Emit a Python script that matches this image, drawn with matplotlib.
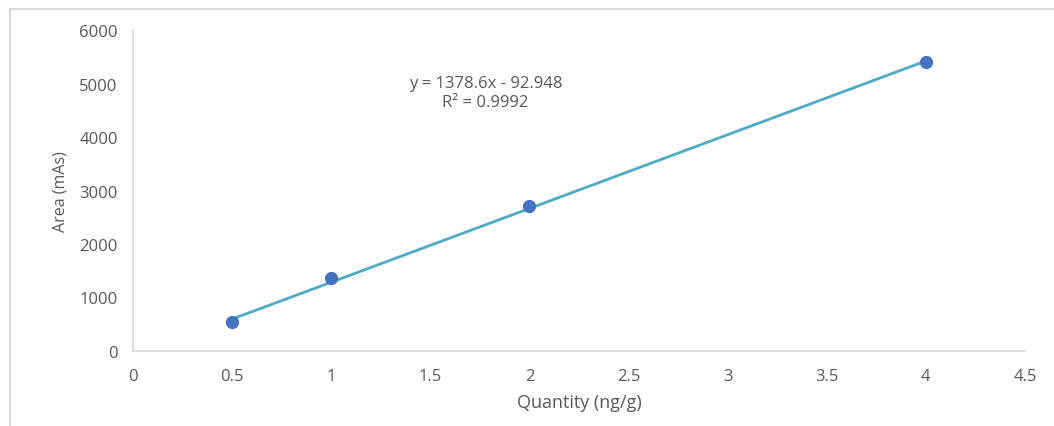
import matplotlib
matplotlib.use('Agg')
import numpy as np
from matplotlib import pyplot as plt
from matplotlib.patches import Rectangle

quantity = [0.5, 1, 2, 4]
area = [540, 1365, 2705, 5400]
slope = 1378.6
intercept = -92.948
equation = 'y = 1378.6x - 92.948'
r2_text = 'R² = 0.9992'
x_ticks = [0, 0.5, 1, 1.5, 2, 2.5, 3, 3.5, 4, 4.5]
y_ticks = [0, 1000, 2000, 3000, 4000, 5000, 6000]

GREY = '#595959'
plt.rcParams['font.family'] = ['Open Sans', 'DejaVu Sans']

fig = plt.figure(figsize=(10.54, 4.27), dpi=100)
# outer chart frame
fig.patches.append(Rectangle((10 / 1054, -0.1), 1.2, (427 - 10) / 427 + 0.1,
                             transform=fig.transFigure, fill=False,
                             edgecolor='#d9d9d9', linewidth=1.5))
ax = fig.add_axes([133 / 1054, 75 / 427, 892 / 1054, 321 / 427])

xfit = np.array([quantity[0], quantity[-1]])
ax.plot(xfit, slope * xfit + intercept, color='#4bacc6', linewidth=2, zorder=2)
ax.plot(quantity, area, 'o', color='#4472c4', markersize=8.5, zorder=3)

ax.set_xlim(0, 4.5)
ax.set_ylim(0, 6000)
ax.set_xticks(x_ticks)
ax.set_xticklabels([f'{t:g}' for t in x_ticks])
ax.set_yticks(y_ticks)
ax.tick_params(length=0, colors=GREY, labelsize=12, pad=11)
ax.tick_params(axis='x', pad=12)

for s in ['top', 'right']:
    ax.spines[s].set_visible(False)
for s in ['left', 'bottom']:
    ax.spines[s].set_color('#d9d9d9')
    ax.spines[s].set_linewidth(1.2)

ax.set_xlabel('Quantity (ng/g)', color=GREY, fontsize=13, labelpad=7)
ax.set_ylabel('Area (mAs)', color=GREY, fontsize=11.5, labelpad=8)

ax.text(0.395, 0.805, equation + '\n' + r2_text, transform=ax.transAxes,
        ha='center', va='center', color=GREY, fontsize=12, linespacing=1.3)

fig.savefig('out.png', dpi=100)
